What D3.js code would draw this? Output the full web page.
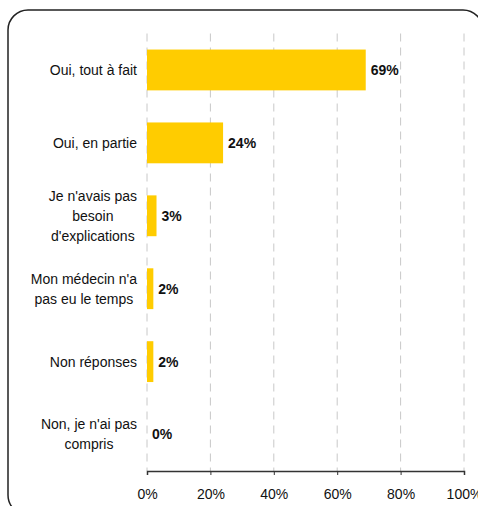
<!DOCTYPE html>
<html>
<head>
<meta charset="utf-8">
<script src="https://cdn.jsdelivr.net/npm/d3@7"></script>
<style>
  body { margin: 0; background: #fff; }
  svg { display: block; font-family: "Liberation Sans", Arial, sans-serif; }
</style>
</head>
<body>
<div id="chart"></div>
<script>
// Chart data
const categories = ['Oui, tout à fait', 'Oui, en partie', "Je n'avais pas besoin d'explications",
    "Mon médecin n'a pas eu le temps", 'Non réponses', "Non, je n'ai pas compris"];
const categoryLines = [
    ['Oui, tout à fait'],
    ['Oui, en partie'],
    ["Je n'avais pas", 'besoin', "d'explications"],
    ["Mon médecin n'a", 'pas eu le temps'],
    ['Non réponses'],
    ["Non, je n'ai pas", 'compris']
];
const values = [69, 24, 3, 2, 2, 0];
const xTicks = [0, 20, 40, 60, 80, 100];

const width = 478;
const height = 506;
const margin = { left: 147, right: 14, top: 33.5, bottom: 35 };

const svg = d3.select('#chart')
    .append('svg')
    .attr('width', width)
    .attr('height', height);

// Rounded frame (partly outside the view, like the original)
svg.append('rect')
    .attr('x', 8)
    .attr('y', 10)
    .attr('width', 475)
    .attr('height', 505)
    .attr('rx', 20)
    .attr('fill', 'none')
    .attr('stroke', '#222')
    .attr('stroke-width', 1.5);

const x = d3.scaleLinear()
    .domain([0, 100])
    .range([margin.left, width - margin.right]);

const y = d3.scaleBand()
    .domain(categories)
    .range([margin.top, height - margin.bottom])
    .paddingInner(0.44)
    .paddingOuter(0.22);

const plotBottom = height - margin.bottom;

// Dashed gridlines
svg.append('g')
    .selectAll('line')
    .data(xTicks)
    .enter()
    .append('line')
    .attr('x1', d => x(d))
    .attr('x2', d => x(d))
    .attr('y1', margin.top)
    .attr('y2', plotBottom)
    .attr('stroke', '#c8c8c8')
    .attr('stroke-width', 1)
    .attr('stroke-dasharray', '8,6');

// Bars
svg.append('g')
    .selectAll('rect')
    .data(values)
    .enter()
    .append('rect')
    .attr('x', x(0))
    .attr('y', (d, i) => y(categories[i]))
    .attr('width', d => x(d) - x(0))
    .attr('height', y.bandwidth())
    .attr('fill', '#ffcc00');

// Value labels
svg.append('g')
    .selectAll('text')
    .data(values)
    .enter()
    .append('text')
    .attr('x', d => x(d) + 5)
    .attr('y', (d, i) => y(categories[i]) + y.bandwidth() / 2)
    .attr('dy', '0.35em')
    .style('font-size', '14px')
    .style('font-weight', 'bold')
    .style('fill', '#111')
    .text(d => d + '%');

// Category labels: block right-aligned, lines centered inside it
const lineHeight = 20;
const labelRight = 137;
categoryLines.forEach((lines, i) => {
    const cy = y(categories[i]) + y.bandwidth() / 2;
    const g = svg.append('g');
    const texts = g.selectAll('text')
        .data(lines)
        .enter()
        .append('text')
        .attr('y', (d, j) => cy + (j - (lines.length - 1) / 2) * lineHeight)
        .attr('dy', '0.35em')
        .attr('text-anchor', 'middle')
        .style('font-size', '14px')
        .style('fill', '#111')
        .text(d => d);
    let maxW = 0;
    texts.each(function() { maxW = Math.max(maxW, this.getComputedTextLength()); });
    texts.attr('x', labelRight - maxW / 2);
});

// X axis
const xAxis = svg.append('g')
    .attr('transform', `translate(0, ${plotBottom})`)
    .call(d3.axisBottom(x)
        .tickValues(xTicks)
        .tickSize(4)
        .tickPadding(14)
        .tickFormat(d => d + '%'));

xAxis.select('.domain').attr('stroke', '#333').attr('stroke-width', 1.5);
xAxis.selectAll('.tick line').attr('stroke', '#333');
xAxis.selectAll('.tick text')
    .style('font-size', '14px')
    .style('font-family', '"Liberation Sans", Arial, sans-serif')
    .style('fill', '#111');
</script>
</body>
</html>
